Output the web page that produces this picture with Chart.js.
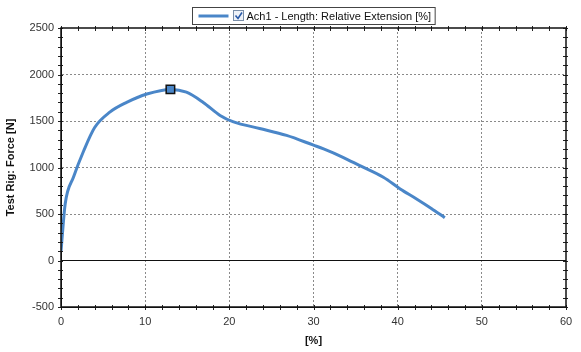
<!DOCTYPE html>
<html lang="en">
<head>
  <meta charset="UTF-8">
  <title>Force vs Extension</title>
  <script src="https://cdn.jsdelivr.net/npm/chart.js"></script>
  <style>
    body { margin: 0; background: #fff; }
    #wrap { width: 581px; height: 352px; }
  </style>
</head>
<body>
  <div id="wrap"><canvas id="forceChart" width="581" height="352"></canvas></div>

  <script>
    // values
    const seriesLabel = 'Ach1 - Length: Relative Extension [%]';
    const extension = [0, 0.5, 1.5, 2.7, 4.0, 5.8, 7.8, 10.2, 13.0, 14.9, 16.9, 18.9, 20.5, 23.6, 26.8, 30.0, 31.2, 33.5, 35.5, 38.3, 40.3, 42.2, 44.0, 45.6];
    const force = [100, 610, 900, 1180, 1430, 1595, 1700, 1790, 1840, 1810, 1700, 1560, 1490, 1420, 1345, 1240, 1200, 1110, 1020, 895, 770, 665, 560, 460];
    const markerIndex = 8;
    const xTitle = '[%]';
    const yTitle = 'Test Rig: Force [N]';

    const lineColor = '#4a86c8';
    const font = '"Liberation Sans", Arial, sans-serif';

    // framed legend with a little checkbox, like the original software
    const legendBox = {
      id: 'legendBox',
      afterDraw(chart) {
        const ctx = chart.ctx;
        const area = chart.chartArea;
        ctx.save();
        ctx.font = '11px ' + font;
        const tw = ctx.measureText(seriesLabel).width;
        const w = tw + 58, h = 17;
        const x = Math.round((area.left + area.right) / 2 - w / 2) + 0.5;
        const y = 7.5;
        ctx.fillStyle = '#fff';
        ctx.fillRect(x, y, w, h);
        ctx.strokeStyle = '#444';
        ctx.lineWidth = 1;
        ctx.strokeRect(x, y, w, h);
        ctx.strokeStyle = lineColor;
        ctx.lineWidth = 3;
        ctx.beginPath();
        ctx.moveTo(x + 6, y + h / 2);
        ctx.lineTo(x + 36, y + h / 2);
        ctx.stroke();
        // checkbox
        ctx.fillStyle = '#eef2f8';
        ctx.fillRect(x + 41, y + 3, 10, 10);
        ctx.strokeStyle = '#7a8ea8';
        ctx.lineWidth = 1;
        ctx.strokeRect(x + 41, y + 3, 10, 10);
        ctx.strokeStyle = '#2a5aa8';
        ctx.lineWidth = 1.6;
        ctx.beginPath();
        ctx.moveTo(x + 43, y + 8);
        ctx.lineTo(x + 45.5, y + 11);
        ctx.lineTo(x + 49.5, y + 5);
        ctx.stroke();
        ctx.fillStyle = '#111';
        ctx.textBaseline = 'middle';
        ctx.fillText(seriesLabel, x + 54, y + h / 2 + 1);
        ctx.restore();
      }
    };

    // small crossing tick marks on all four sides of the frame
    const frameTicks = {
      id: 'frameTicks',
      afterDatasetsDraw(chart) {
        const ctx = chart.ctx;
        const a = chart.chartArea;
        const xs = chart.scales.x, ys = chart.scales.y;
        ctx.save();
        ctx.strokeStyle = '#222';
        ctx.lineWidth = 1;
        ctx.beginPath();
        xs.ticks.forEach(t => {
          const px = Math.round(xs.getPixelForValue(t.value)) + 0.5;
          ctx.moveTo(px, a.bottom - 2); ctx.lineTo(px, a.bottom + 3);
          ctx.moveTo(px, a.top - 2); ctx.lineTo(px, a.top + 3);
        });
        ys.ticks.forEach(t => {
          const py = Math.round(ys.getPixelForValue(t.value)) + 0.5;
          ctx.moveTo(a.left - 3, py); ctx.lineTo(a.left + 2, py);
          ctx.moveTo(a.right - 3, py); ctx.lineTo(a.right + 2, py);
        });
        ctx.stroke();
        ctx.lineWidth = 1.5;
        ctx.strokeStyle = '#111';
        ctx.strokeRect(a.left, a.top, a.right - a.left, a.bottom - a.top);
        ctx.restore();
      }
    };

    const points = extension.map((v, i) => ({ x: v, y: force[i] }));

    new Chart(document.getElementById('forceChart'), {
      type: 'line',
      data: {
        datasets: [{
          label: seriesLabel,
          data: points,
          borderColor: lineColor,
          borderWidth: 3,
          cubicInterpolationMode: 'monotone',
          pointStyle: 'rect',
          pointRadius: c => c.dataIndex === markerIndex ? 6 : 0,
          pointBackgroundColor: lineColor,
          pointBorderColor: '#111',
          pointBorderWidth: 1.5
        }]
      },
      options: {
        responsive: false,
        animation: false,
        layout: { padding: { top: 28, right: 15, left: 0, bottom: 0 } },
        plugins: { legend: { display: false }, tooltip: { enabled: false } },
        scales: {
          x: {
            type: 'linear',
            min: 0, max: 60,
            afterFit: s => { s.height = 45; },
            ticks: {
              stepSize: 2,
              autoSkip: false,
              maxRotation: 0,
              color: '#333',
              font: { family: font, size: 11 },
              padding: 8,
              callback: v => v % 10 === 0 ? v : ''
            },
            grid: {
              drawTicks: false,
              color: c => (c.tick && c.tick.value % 10 === 0 && c.tick.value !== 0 && c.tick.value !== 60) ? '#8a8a8a' : 'rgba(0,0,0,0)'
            },
            border: { color: '#111', width: 1, dash: c => c.tick ? [2, 2] : [] },
            title: {
              display: true, text: xTitle, color: '#111',
              font: { family: font, size: 11, weight: 'bold' },
              padding: { top: 2 }
            }
          },
          y: {
            min: -500, max: 2500,
            afterFit: s => { s.width = 61; },
            ticks: {
              stepSize: 100,
              autoSkip: false,
              color: '#333',
              font: { family: font, size: 11 },
              padding: 7,
              callback: v => v % 500 === 0 ? v : ''
            },
            grid: {
              drawTicks: false,
              color: c => {
                if (!c.tick) return 'rgba(0,0,0,0)';
                const v = c.tick.value;
                if (v === 0) return '#111';
                if (v === 2500 || v === -500) return 'rgba(0,0,0,0)';
                return v % 500 === 0 ? '#8a8a8a' : 'rgba(0,0,0,0)';
              }
            },
            border: { color: '#111', width: 1, dash: c => (c.tick && c.tick.value !== 0) ? [2, 2] : [] },
            title: {
              display: true, text: yTitle, color: '#111',
              font: { family: font, size: 11, weight: 'bold' },
              padding: { bottom: 2 }
            }
          }
        }
      },
      plugins: [frameTicks, legendBox]
    });
  </script>
</body>
</html>
